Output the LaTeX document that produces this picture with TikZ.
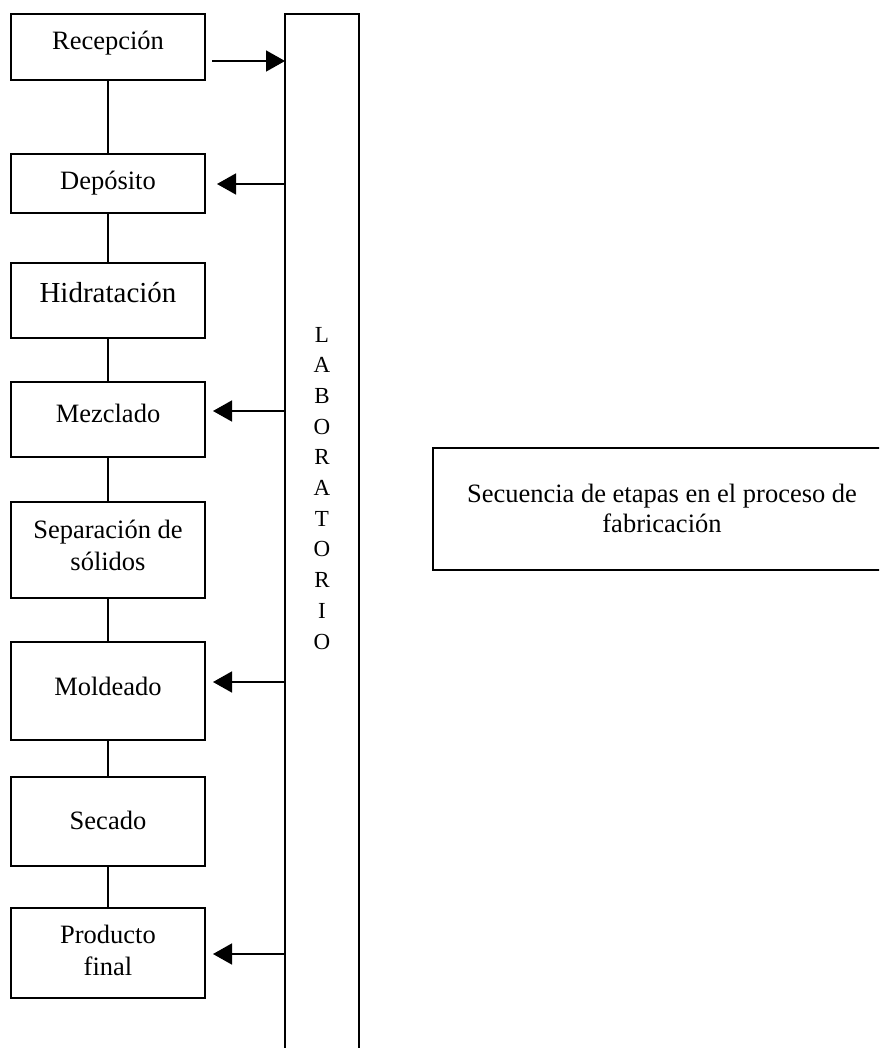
\documentclass[tikz,border=0pt]{standalone}
\usepackage{fontspec}
\setmainfont{Liberation Serif}
\usetikzlibrary{arrows.meta}

% two centred lines stacked under a common baseline (the first line's)
\newcommand\twolines[3]{\vtop{\baselineskip=#3\relax
  \hbox to 0pt{\hss #1\hss}\hbox to 0pt{\hss #2\hss}}}

\begin{document}
\begin{tikzpicture}[x=1pt,y=-1pt,
  every node/.style={inner sep=0pt, outer sep=0pt},
  stage/.style={draw, line width=1.6pt, minimum width=194pt},
  caption/.style={font=\fontsize{26.5pt}{30pt}\selectfont, anchor=base},
  letter/.style={font=\fontsize{23pt}{27pt}\selectfont, anchor=base},
  link/.style={line width=1.6pt},
  arr/.style={line width=1.6pt, -{Triangle[length=19pt,width=21pt]}},
]
\path[use as bounding box] (0,0) rectangle (879,1048);
\clip (0,0) rectangle (879,1048);

% laboratory column (runs off the bottom of the page)
\node[draw, line width=1.6pt, minimum width=74pt, minimum height=1060pt,
      anchor=north] (lab) at (322,14) {};
\foreach \ch [count=\i from 0] in {L,A,B,O,R,A,T,O,R,I,O}
  \node[letter] (lab-\i) at (322,{342+30.7*\i}) {\ch};

% process stages
\node[stage, minimum height=66pt] (rec) at (108,47) {};
\node[caption] (rec-t) at (108,50) {Recepción};

\node[stage, minimum height=59pt] (dep) at (108,183.5) {};
\node[caption] (dep-t) at (108,190) {Depósito};

\node[stage, minimum height=75pt] (hid) at (108,300.5) {};
\node[caption, font=\fontsize{29pt}{33pt}\selectfont] (hid-t) at (108,302) {Hidratación};

\node[stage, minimum height=75pt] (mez) at (108,419.5) {};
\node[caption] (mez-t) at (108,422) {Mezclado};

\node[stage, minimum height=96pt] (sep) at (108,550) {};
\node[caption] (sep-t) at (108,538) {\twolines{Separación de}{sólidos}{32pt}};

\node[stage, minimum height=98pt] (mol) at (108,691) {};
\node[caption] (mol-t) at (108,695) {Moldeado};

\node[stage, minimum height=89pt] (sec) at (108,821.5) {};
\node[caption] (sec-t) at (108,829) {Secado};

\node[stage, minimum height=90pt] (pro) at (108,953) {};
\node[caption] (pro-t) at (108,943) {\twolines{Producto}{final}{32pt}};

% sequence links
\draw[link] (rec) -- (dep);
\draw[link] (dep) -- (hid);
\draw[link] (hid) -- (mez);
\draw[link] (mez) -- (sep);
\draw[link] (sep) -- (mol);
\draw[link] (mol) -- (sec);
\draw[link] (sec) -- (pro);

% exchanges with the laboratory
\draw[arr, shorten <=7pt] (rec.east |- 0,61) -- (lab.west |- 0,61);
\draw[arr, shorten >=12pt] (lab.west |- 0,184) -- (dep.east |- 0,184);
\draw[arr, shorten >=8pt] (lab.west |- 0,411) -- (mez.east |- 0,411);
\draw[arr, shorten >=8pt] (lab.west |- 0,682) -- (mol.east |- 0,682);
\draw[arr, shorten >=8pt] (lab.west |- 0,954) -- (pro.east |- 0,954);

% title box (runs off the right edge)
\node[draw, line width=1.6pt, minimum width=458pt, minimum height=122pt]
  (seq) at (662,509) {};
\node[caption] (seq-t) at (662,502)
  {\twolines{Secuencia de etapas en el proceso de}{fabricación}{30pt}};
\end{tikzpicture}
\end{document}
